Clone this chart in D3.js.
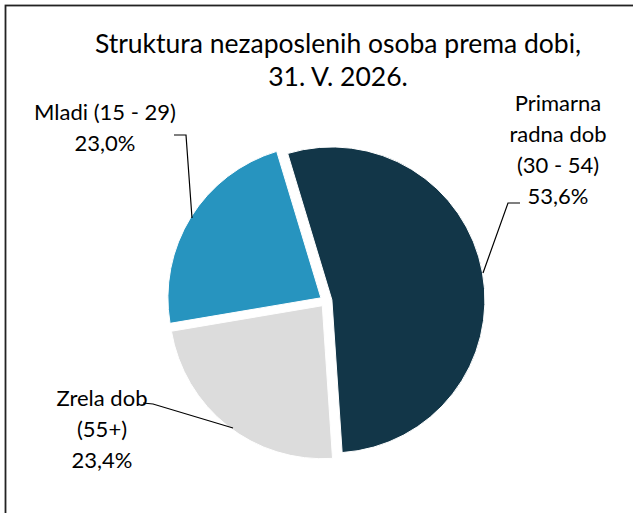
<!DOCTYPE html>
<html>
<head>
<meta charset="utf-8">
<script src="https://cdn.jsdelivr.net/npm/d3@7"></script>
<style>
  body { margin: 0; background: #fff; }
  svg { display: block; font-family: Lato, "Open Sans", sans-serif; }
</style>
</head>
<body>
<svg id="chart" width="633" height="513"></svg>
<script>
// chart data
const categories = ["Primarna radna dob (30 - 54)", "Zrela dob (55+)", "Mladi (15 - 29)"];
const shares = [53.6, 23.4, 23.0];
const labelLines = [
  ["Primarna", "radna dob", "(30 - 54)", "53,6%"],
  ["Zrela dob", "(55+)", "23,4%"],
  ["Mladi (15 - 29)", "23,0%"]
];
const colors = ["#123648", "#dcdcdc", "#2794bf"];
const titleLines = ["Struktura nezaposlenih osoba prema dobi,", "31. V. 2026."];

const svg = d3.select("#chart");
const cx = 326, cy = 301, r = 153, explode = 6;
const start = -16.8 * Math.PI / 180;

// frame (cropped at the right and bottom edge)
svg.append("rect")
  .attr("x", 5.5).attr("y", 5.5)
  .attr("width", 700).attr("height", 600)
  .attr("fill", "none").attr("stroke", "#222").attr("stroke-width", 1.8);

// title
svg.append("g").selectAll("text")
  .data(titleLines)
  .join("text")
  .attr("x", 338)
  .attr("y", (d, i) => 53 + i * 33)
  .attr("text-anchor", "middle")
  .attr("font-size", 26.5)
  .attr("fill", "#000")
  .text(d => d);

const pie = d3.pie().sort(null).startAngle(start).endAngle(start + 2 * Math.PI);
const arc = d3.arc().innerRadius(0).outerRadius(r);
const arcs = pie(shares);

const g = svg.append("g").attr("transform", `translate(${cx},${cy})`);

g.selectAll("path")
  .data(arcs)
  .join("path")
  .attr("d", arc)
  .attr("fill", (d, i) => colors[i])
  .attr("stroke", "#fff")
  .attr("stroke-width", 1)
  .attr("transform", d => {
    const a = (d.startAngle + d.endAngle) / 2;
    return `translate(${explode * Math.sin(a)},${-explode * Math.cos(a)})`;
  });

// leader lines
const leaders = [
  [[520, 203], [508, 203], [483, 273]],
  [[143, 403], [153, 404], [233, 428]],
  [[174, 135], [186, 135], [192, 218]]
];
svg.append("g").selectAll("path")
  .data(leaders)
  .join("path")
  .attr("d", d3.line())
  .attr("fill", "none")
  .attr("stroke", "#000")
  .attr("stroke-width", 1.2);

// data labels
const labelPos = [[558, 111], [102, 406], [105, 120]];
const lg = svg.append("g");
labelLines.forEach((lines, i) => {
  lg.selectAll(null)
    .data(lines)
    .join("text")
    .attr("x", labelPos[i][0])
    .attr("y", (d, j) => labelPos[i][1] + j * 31)
    .attr("text-anchor", "middle")
    .attr("font-size", 22)
    .attr("fill", "#000")
    .text(d => d);
});
</script>
</body>
</html>
